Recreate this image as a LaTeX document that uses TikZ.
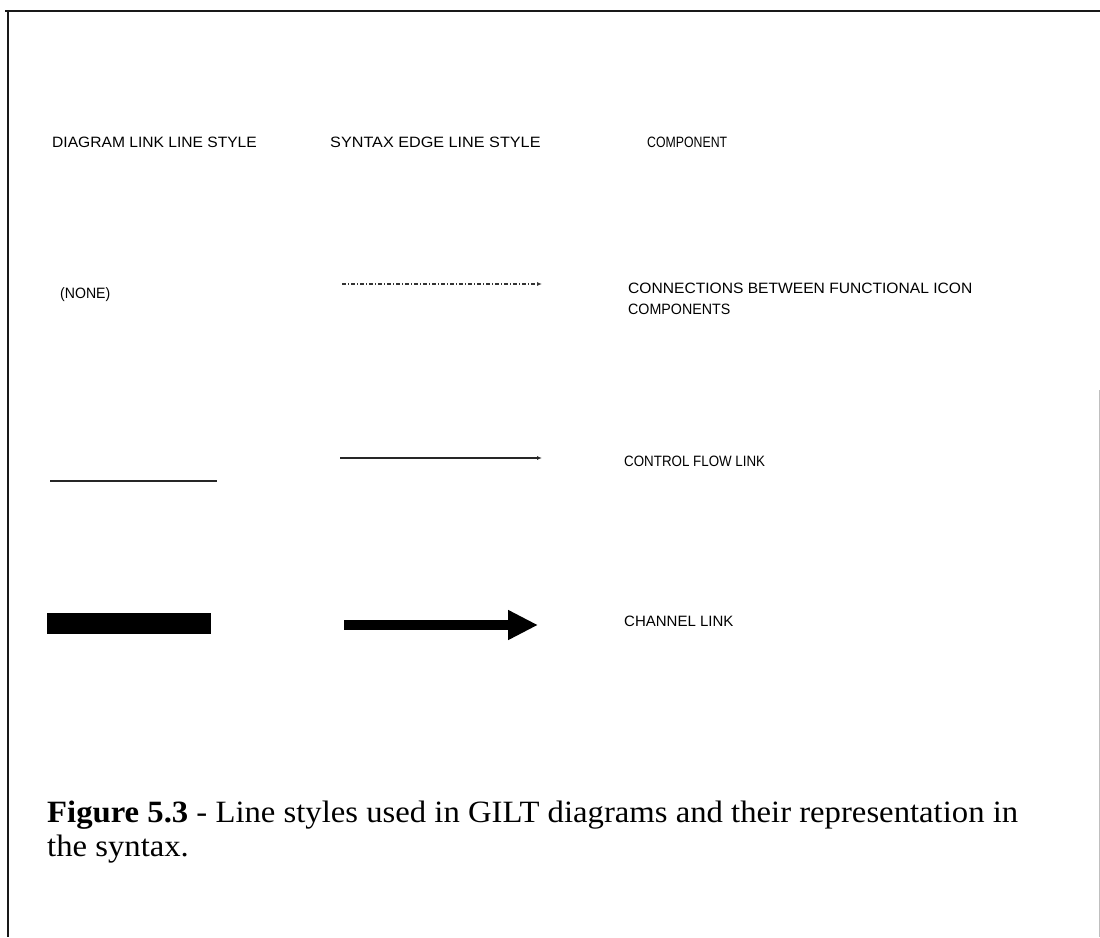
\documentclass[tikz,border=0pt]{standalone}
\usepackage{fontspec}
\usepackage{graphicx}
\setmainfont{Liberation Serif}
\setsansfont{Liberation Sans}
\usetikzlibrary{arrows.meta}
% horizontal squeeze/stretch of a text run
\newcommand{\hsq}[2]{\scalebox{#1}[1]{#2}}
\begin{document}
\begin{tikzpicture}[x=1pt,y=-1pt,
  hdr/.style={inner sep=0pt,anchor=base west,font=\sffamily\fontsize{15}{21}\selectfont,align=left},
  caption/.style={inner sep=0pt,anchor=base west,font=\rmfamily\fontsize{31}{34}\selectfont,align=left},
  frameline/.style={line width=2.5pt,black!90},
  thinlink/.style={line width=1.3pt,black!85},
  dotlink/.style={line width=1.3pt,black!80,dash pattern=on 4pt off 2pt on 1pt off 2pt},
  smalltip/.style={-{Latex[length=5pt,width=4pt]}},
  fatarrow/.style={line width=10pt,-{Triangle[length=30pt,width=28pt]}}]
\useasboundingbox (0,0) rectangle (1100,937);

% frame around the figure
\coordinate (ftl) at (8,11);
\coordinate (ftr) at (1100,11);
\coordinate (fbl) at (8,937);
\coordinate (frt) at (1099,390);
\coordinate (frb) at (1099,937);
\draw[frameline] (5,11) -- (ftr);
\draw[frameline] (ftl) -- (fbl);
\draw[line width=1pt,black!25] (frt) -- (frb);

% column headings
\node[hdr] (h1) at (52,147) {\hsq{1.04}{DIAGRAM LINK LINE STYLE}};
\node[hdr] (h2) at (330,147) {\hsq{1.08}{SYNTAX EDGE LINE STYLE}};
\node[hdr] (h3) at (647,147) {\hsq{0.82}{COMPONENT}};

% row 1: functional icon connections
\node[hdr] (none) at (60,298) {\hsq{0.94}{(NONE)}};
\coordinate (d1a) at (342,284);
\coordinate (d1b) at (542,284);
\draw[dotlink,smalltip] (d1a) -- (d1b);
\node[hdr] (c1) at (628,314) {\hsq{1.04}{CONNECTIONS BETWEEN FUNCTIONAL ICON}\\\hsq{0.95}{COMPONENTS}};

% row 2: control flow link
\coordinate (l2a) at (50,481);
\coordinate (l2b) at (217,481);
\draw[thinlink] (l2a) -- (l2b);
\coordinate (s2a) at (340,458);
\coordinate (s2b) at (542,458);
\draw[thinlink,smalltip] (s2a) -- (s2b);
\node[hdr] (c2) at (624,466) {\hsq{0.89}{CONTROL FLOW LINK}};

% row 3: channel link
\node[fill=black,inner sep=0pt,minimum width=164pt,minimum height=21pt] (bar) at (129,623) {};
\coordinate (s3a) at (344,625);
\coordinate (s3b) at (538,625);
\draw[fatarrow] (s3a) -- (s3b);
\node[hdr] (c3) at (624,626) {\hsq{1.0}{CHANNEL LINK}};

% caption
\node[caption] (cap) at (47,856) {\hsq{1.055}{\textbf{Figure 5.3} - Line styles used in GILT diagrams and their representation in}\\\hsq{1.055}{the syntax.}};
\end{tikzpicture}
\end{document}
